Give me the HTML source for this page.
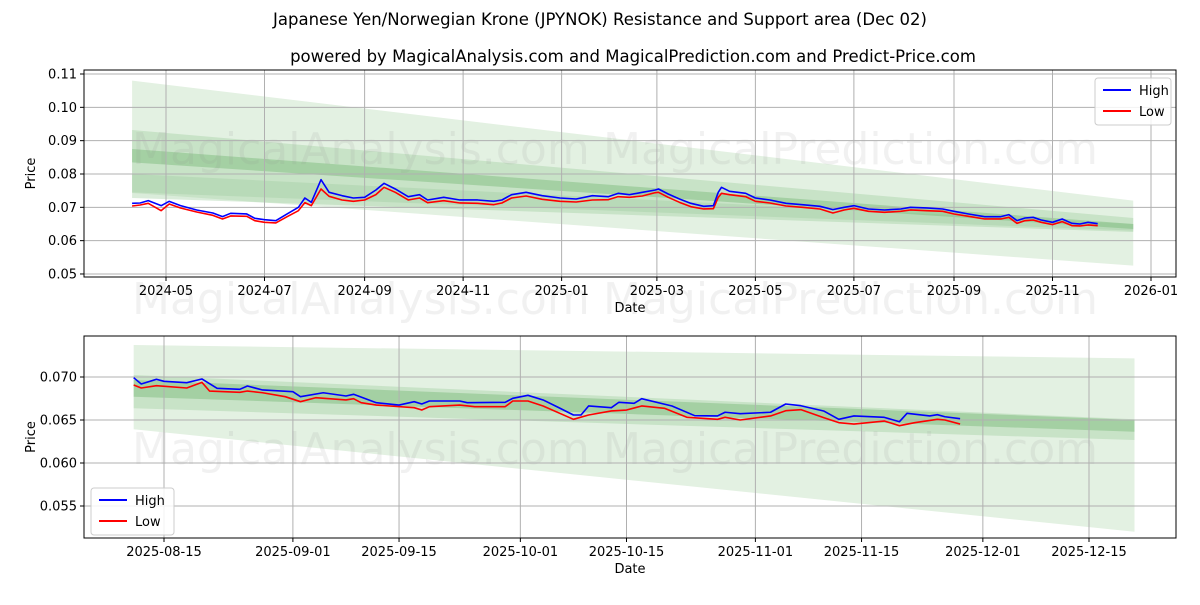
<!DOCTYPE html>
<html><head><meta charset="utf-8"><style>
body{margin:0;background:#fff;font-family:"Liberation Sans","DejaVu Sans",sans-serif;}
svg text{font-family:"DejaVu Sans","Liberation Sans",sans-serif;}
</style></head><body>
<svg id="c" width="1200" height="600" xmlns="http://www.w3.org/2000/svg">
<rect width="1200" height="600" fill="#fff"/>
<text x="600" y="25" text-anchor="middle" font-size="16.5">Japanese Yen/Norwegian Krone (JPYNOK) Resistance and Support area (Dec 02)</text>
<text x="633" y="62" text-anchor="middle" font-size="16.5">powered by MagicalAnalysis.com and MagicalPrediction.com and Predict-Price.com</text>
</svg>
<script>
// ---- top chart data ----
const topDates=["2024-04-10","2024-04-15","2024-04-20","2024-04-28","2024-05-03","2024-05-10","2024-05-20","2024-05-30","2024-06-05","2024-06-10","2024-06-20","2024-06-25","2024-07-01","2024-07-08","2024-07-15","2024-07-22","2024-07-26","2024-07-30","2024-08-05","2024-08-10","2024-08-18","2024-08-25","2024-09-01","2024-09-08","2024-09-13","2024-09-20","2024-09-28","2024-10-05","2024-10-10","2024-10-20","2024-10-30","2024-11-10","2024-11-20","2024-11-25","2024-12-01","2024-12-10","2024-12-20","2024-12-31","2025-01-10","2025-01-20","2025-01-30","2025-02-05","2025-02-12","2025-02-20","2025-02-28","2025-03-02","2025-03-08","2025-03-15","2025-03-22","2025-03-30","2025-04-05","2025-04-08","2025-04-10","2025-04-15","2025-04-25","2025-05-01","2025-05-10","2025-05-20","2025-05-30","2025-06-10","2025-06-18","2025-06-25","2025-07-01","2025-07-10","2025-07-20","2025-07-30","2025-08-05","2025-08-15","2025-08-25","2025-09-01","2025-09-10","2025-09-20","2025-09-30","2025-10-05","2025-10-10","2025-10-15","2025-10-20","2025-10-25","2025-11-01","2025-11-07","2025-11-13","2025-11-18","2025-11-23","2025-11-29"];
const topHigh=[0.0712,0.0713,0.0720,0.0705,0.0718,0.0705,0.0692,0.0683,0.0672,0.0682,0.0680,0.0667,0.0663,0.0660,0.0680,0.0700,0.0728,0.0715,0.0783,0.0745,0.0735,0.0728,0.0730,0.0752,0.0772,0.0755,0.0732,0.0738,0.0722,0.0730,0.0722,0.0722,0.0718,0.0722,0.0738,0.0745,0.0735,0.0728,0.0725,0.0735,0.0732,0.0742,0.0738,0.0745,0.0752,0.0755,0.0740,0.0725,0.0712,0.0703,0.0705,0.0745,0.0760,0.0748,0.0742,0.0728,0.0722,0.0712,0.0708,0.0703,0.0693,0.0700,0.0705,0.0695,0.0692,0.0695,0.0700,0.0698,0.0695,0.0688,0.0680,0.0672,0.0672,0.0678,0.0660,0.0668,0.0670,0.0662,0.0655,0.0665,0.0652,0.0650,0.0655,0.0651];
const topLow=[0.0704,0.0707,0.0712,0.0690,0.0710,0.0698,0.0686,0.0676,0.0665,0.0674,0.0673,0.0660,0.0655,0.0653,0.0672,0.0690,0.0714,0.0705,0.0755,0.0733,0.0722,0.0718,0.0722,0.0738,0.0760,0.0745,0.0722,0.0728,0.0714,0.0720,0.0713,0.0712,0.0708,0.0713,0.0728,0.0734,0.0724,0.0718,0.0716,0.0722,0.0723,0.0732,0.0730,0.0734,0.0744,0.0745,0.0730,0.0715,0.0702,0.0695,0.0696,0.0730,0.0742,0.0738,0.0732,0.0718,0.0713,0.0704,0.0700,0.0695,0.0683,0.0692,0.0697,0.0688,0.0685,0.0688,0.0692,0.0690,0.0688,0.0680,0.0673,0.0665,0.0665,0.0670,0.0652,0.0660,0.0662,0.0655,0.0648,0.0657,0.0645,0.0644,0.0647,0.0645];
const topTicksY=[0.05,0.06,0.07,0.08,0.09,0.10,0.11];
const topTicksX=["2024-05","2024-07","2024-09","2024-11","2025-01","2025-03","2025-05","2025-07","2025-09","2025-11","2026-01"];
const topBandDates=["2024-04-10","2025-12-21"];
const topBandLight=[[0.0743,0.108],[0.0525,0.072]];
const topBandMid=[[0.0728,0.0932],[0.0626,0.0668]];
const topBandMid2=[[0.0745,0.0800],[0.0630,0.0650]];
const topBandDark=[[0.0835,0.0875],[0.0635,0.0650]];
// ---- bottom chart data ----
const botHighDates=["2025-08-11","2025-08-12","2025-08-14","2025-08-15","2025-08-18","2025-08-20","2025-08-22","2025-08-25","2025-08-26","2025-08-28","2025-09-01","2025-09-02","2025-09-05","2025-09-08","2025-09-09","2025-09-12","2025-09-15","2025-09-17","2025-09-18","2025-09-19","2025-09-23","2025-09-24","2025-09-29","2025-09-30","2025-10-02","2025-10-04","2025-10-06","2025-10-08","2025-10-09","2025-10-10","2025-10-13","2025-10-14","2025-10-16","2025-10-17","2025-10-21","2025-10-24","2025-10-27","2025-10-28","2025-10-30","2025-11-03","2025-11-05","2025-11-07","2025-11-10","2025-11-12","2025-11-14","2025-11-18","2025-11-20","2025-11-21","2025-11-24","2025-11-25","2025-11-26","2025-11-28"];
const botHigh=[0.06992,0.06919,0.06973,0.0695,0.06934,0.06977,0.06869,0.06857,0.06895,0.06849,0.06829,0.06771,0.06817,0.06779,0.06799,0.06701,0.06674,0.06713,0.06686,0.06721,0.06721,0.06701,0.06706,0.06752,0.06787,0.06733,0.06647,0.06558,0.06558,0.06663,0.06643,0.06706,0.06694,0.06748,0.06663,0.0655,0.06547,0.0659,0.06573,0.0659,0.06686,0.06666,0.06605,0.06508,0.06547,0.06531,0.0648,0.06578,0.06547,0.06562,0.06538,0.06515];
const botLowDates=["2025-08-11","2025-08-12","2025-08-14","2025-08-18","2025-08-20","2025-08-21","2025-08-25","2025-08-26","2025-08-28","2025-08-31","2025-09-02","2025-09-04","2025-09-08","2025-09-09","2025-09-10","2025-09-12","2025-09-17","2025-09-18","2025-09-19","2025-09-23","2025-09-25","2025-09-29","2025-09-30","2025-10-02","2025-10-04","2025-10-08","2025-10-10","2025-10-13","2025-10-15","2025-10-17","2025-10-20","2025-10-23","2025-10-27","2025-10-28","2025-10-30","2025-11-03","2025-11-05","2025-11-07","2025-11-10","2025-11-12","2025-11-14","2025-11-18","2025-11-20","2025-11-22","2025-11-25","2025-11-26","2025-11-28"];
const botLow=[0.06907,0.06872,0.06899,0.06872,0.06938,0.06837,0.06822,0.06837,0.06817,0.06771,0.06713,0.06759,0.06733,0.06748,0.06701,0.06674,0.06643,0.06616,0.06655,0.06674,0.06655,0.06655,0.06721,0.06721,0.06663,0.06508,0.06558,0.06605,0.06616,0.06663,0.06636,0.06531,0.06508,0.06531,0.065,0.06547,0.06608,0.0662,0.06527,0.06469,0.06453,0.06488,0.06434,0.06469,0.06508,0.065,0.06453];
const botTicksY=[0.055,0.060,0.065,0.070];
const botTicksX=["2025-08-15","2025-09-01","2025-09-15","2025-10-01","2025-10-15","2025-11-01","2025-11-15","2025-12-01","2025-12-15"];
const botBandDates=["2025-08-11","2025-12-21"];
const botBandLight=[[0.06392,0.07372],[0.0520,0.07217]];
const botBandMid=[[0.06636,0.07023],[0.06267,0.06508]];
const botBandDark=[[0.06771,0.06965],[0.06364,0.0650]];

const NS="http://www.w3.org/2000/svg";
const svg=document.getElementById('c');
function mk(tag,attrs,parent){const e=document.createElementNS(NS,tag);for(const k in attrs)e.setAttribute(k,attrs[k]);(parent||svg).appendChild(e);return e;}
function day(s){if(s.length===7)s+="-01";return Date.UTC(+s.slice(0,4),+s.slice(5,7)-1,+s.slice(8,10))/864e5;}

function panel(o){
  const g=mk('g',{});
  
  
  const X=d=>o.x0+(day(d)-day(o.d0))*o.pxPerDay;
  const Y=v=>o.yRef+(o.vRef-v)*o.pxPerUnit;
  const bandsList=[[o.light,'#e3f1e2'],[o.mid,'rgba(150,200,150,0.35)'],[o.mid2,'rgba(150,200,150,0.3)'],[o.dark,'rgba(120,185,120,0.45)']];
  bandsList.forEach(([b,c])=>{if(!b)return;
    const x1=X(o.bandDates[0]),x2=X(o.bandDates[1]);
    const p=mk('polygon',{points:`${x1},${Y(b[0][1])} ${x2},${Y(b[1][1])} ${x2},${Y(b[1][0])} ${x1},${Y(b[0][0])}`,fill:c},g);
    
    
  });
  o.wm.forEach(w=>{const t=mk('text',{x:w[0],y:w[1],'font-size':44,fill:'rgba(150,150,150,0.13)'},g);t.textContent=w[2];
    
    });
  o.ticksX.forEach(t=>{const x=X(t);
    mk('line',{x1:x,x2:x,y1:o.top,y2:o.bottom,stroke:'#b0b0b0','stroke-width':1},g);
    mk('line',{x1:x,x2:x,y1:o.bottom,y2:o.bottom+4,stroke:'#000'},g);
    const tx=mk('text',{x:x,y:o.bottom+18,'text-anchor':'middle','font-size':13},g);tx.textContent=t;
    
    });
  o.ticksY.forEach(v=>{const y=Y(v);
    mk('line',{x1:o.left,x2:o.right,y1:y,y2:y,stroke:'#b0b0b0','stroke-width':1},g);
    mk('line',{x1:o.left-4,x2:o.left,y1:y,y2:y,stroke:'#000'},g);
    const tx=mk('text',{x:o.left-7,y:y+4.5,'text-anchor':'end','font-size':13},g);tx.textContent=v.toFixed(o.dec);
    
    });
  const line=(ds,vs,c,nm)=>{const p=mk('polyline',{points:ds.map((d,i)=>X(d)+','+Y(vs[i])).join(' '),fill:'none',stroke:c,'stroke-width':1.6,'stroke-linejoin':'round'},g);
    
    };
  line(o.lowDates,o.low,'#ff0000','low-line');
  line(o.highDates,o.high,'#0000ff','high-line');
  const fr=mk('rect',{x:o.left,y:o.top,width:o.right-o.left,height:o.bottom-o.top,fill:'none',stroke:'#000','stroke-width':1},g);
  
  
  const xl=mk('text',{x:(o.left+o.right)/2,y:o.bottom+35,'text-anchor':'middle','font-size':13},g);xl.textContent='Date';
  
  
  const cy=(o.top+o.bottom)/2;
  const yl=mk('text',{x:35,y:cy,'text-anchor':'middle','font-size':13,transform:`rotate(-90 35 ${cy})`},g);yl.textContent='Price';
  
  
  const L=o.legend;
  const lg=mk('g',{},g);
  
  
  mk('rect',{x:L[0],y:L[1],width:L[2]||76,height:47,rx:3,fill:'rgba(255,255,255,0.85)',stroke:'#cccccc'},lg);
  [['High','#0000ff'],['Low','#ff0000']].forEach((e,i)=>{const yy=L[1]+12+i*21;
    mk('line',{x1:L[0]+8,x2:L[0]+36,y1:yy,y2:yy,stroke:e[1],'stroke-width':2},lg);
    const t=mk('text',{x:L[0]+44,y:yy+5,'font-size':13},lg);t.textContent=e[0];
    
    });
}
panel({name:'top-chart',left:84,right:1176,top:70,bottom:277,x0:166,d0:'2024-05-01',pxPerDay:985/610,yRef:74,vRef:0.11,pxPerUnit:3333,dec:2,
  ticksX:topTicksX,ticksY:topTicksY,highDates:topDates,high:topHigh,lowDates:topDates,low:topLow,
  bandDates:topBandDates,light:topBandLight,mid:topBandMid,mid2:topBandMid2,dark:topBandDark,
  wm:[[132,164,'MagicalAnalysis.com'],[603,164,'MagicalPrediction.com'],[132,314,'MagicalAnalysis.com'],[603,314,'MagicalPrediction.com']],legend:[1095,78,76]});
panel({name:'bottom-chart',left:84,right:1176,top:336,bottom:538,x0:164,d0:'2025-08-15',pxPerDay:(1089-164)/122,yRef:377,vRef:0.070,pxPerUnit:8600,dec:3,
  ticksX:botTicksX,ticksY:botTicksY,highDates:botHighDates,high:botHigh,lowDates:botLowDates,low:botLow,
  bandDates:botBandDates,light:botBandLight,mid:botBandMid,dark:botBandDark,
  wm:[[132,464,'MagicalAnalysis.com'],[603,464,'MagicalPrediction.com']],legend:[91,488,83]});
</script>
</body></html>
